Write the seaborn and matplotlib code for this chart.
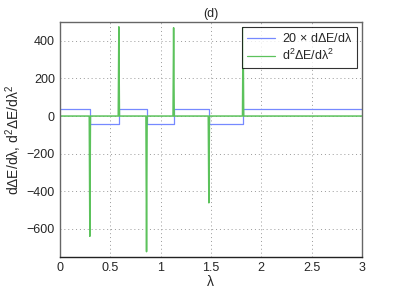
import numpy as np
import pandas as pd
import seaborn as sns
import matplotlib.pyplot as plt

# --- data ---
switch_lam = [0.298, 0.586, 0.861, 1.13, 1.48, 1.82]
blue_levels = [40, -40, 40, -40, 40, -40, 40]      # 20 x dE/dlambda between switches
spike_peaks = [-640, 475, -722, 470, -462, 470]    # d2E/dlambda2 at the switches
lam_end = 3.0
spike_halfwidth = 0.006

# --- build the series ---
bx, by = [0.0], [blue_levels[0]]
for s, lo, hi in zip(switch_lam, blue_levels[:-1], blue_levels[1:]):
    bx += [s, s]
    by += [lo, hi]
bx.append(lam_end)
by.append(blue_levels[-1])

gx, gy = [0.0], [0.0]
for s, p in zip(switch_lam, spike_peaks):
    gx += [s - spike_halfwidth, s, s + spike_halfwidth]
    gy += [0.0, p, 0.0]
gx.append(lam_end)
gy.append(0.0)

blue = pd.DataFrame({"lam": bx, "val": by})
green = pd.DataFrame({"lam": gx, "val": gy})

sns.set_style("white")
plt.rcParams['font.family'] = ['Liberation Sans', 'DejaVu Sans']
plt.rcParams['mathtext.fontset'] = 'custom'
plt.rcParams['mathtext.rm'] = 'Liberation Sans'
plt.rcParams['mathtext.it'] = 'Liberation Sans'

fig = plt.figure(figsize=(3.99, 2.91), dpi=100)
ax = fig.add_axes([0.150, 0.117, 0.757, 0.807])

sns.lineplot(data=blue, x="lam", y="val", ax=ax, color="#7689ff", lw=0.9,
             sort=False, estimator=None, label=r"20 $\times$ dΔE/dλ")
sns.lineplot(data=green, x="lam", y="val", ax=ax, color="#5cc25c", lw=1.1,
             sort=False, estimator=None, label=r"d$^2$ΔE/dλ$^2$")

ax.set_xlim(0, 3)
ax.set_ylim(-750, 500)
ax.set_xticks([0, 0.5, 1, 1.5, 2, 2.5, 3])
ax.set_xticklabels(["0", "0.5", "1", "1.5", "2", "2.5", "3"])
ax.set_yticks([-600, -400, -200, 0, 200, 400])
ax.set_yticklabels(["\u2212600", "\u2212400", "\u2212200", "0", "200", "400"])
ax.grid(True, linestyle=(0, (1, 3)), color="#999999", lw=0.7)
ax.tick_params(direction="in", length=3, labelsize=9, color="#555555")
for sp in ax.spines.values():
    sp.set_color("#666666")
    sp.set_linewidth(1.0)
ax.spines["bottom"].set_color("#222222")

ax.set_xlabel("λ", fontsize=10, labelpad=1)
ax.set_ylabel(r"dΔE/dλ, d$^2$ΔE/dλ$^2$", fontsize=10, labelpad=2)
ax.set_title("(d)", fontsize=9, pad=4)

leg = ax.legend(loc="upper right", fontsize=9, frameon=True, fancybox=False,
                borderpad=0.4, handlelength=2.3, labelspacing=0.25,
                borderaxespad=0.4, handletextpad=0.5)
leg.get_frame().set_edgecolor("black")
leg.get_frame().set_linewidth(0.8)
for line in leg.get_lines():
    line.set_linewidth(0.9)

fig.savefig("out.png", dpi=100)
